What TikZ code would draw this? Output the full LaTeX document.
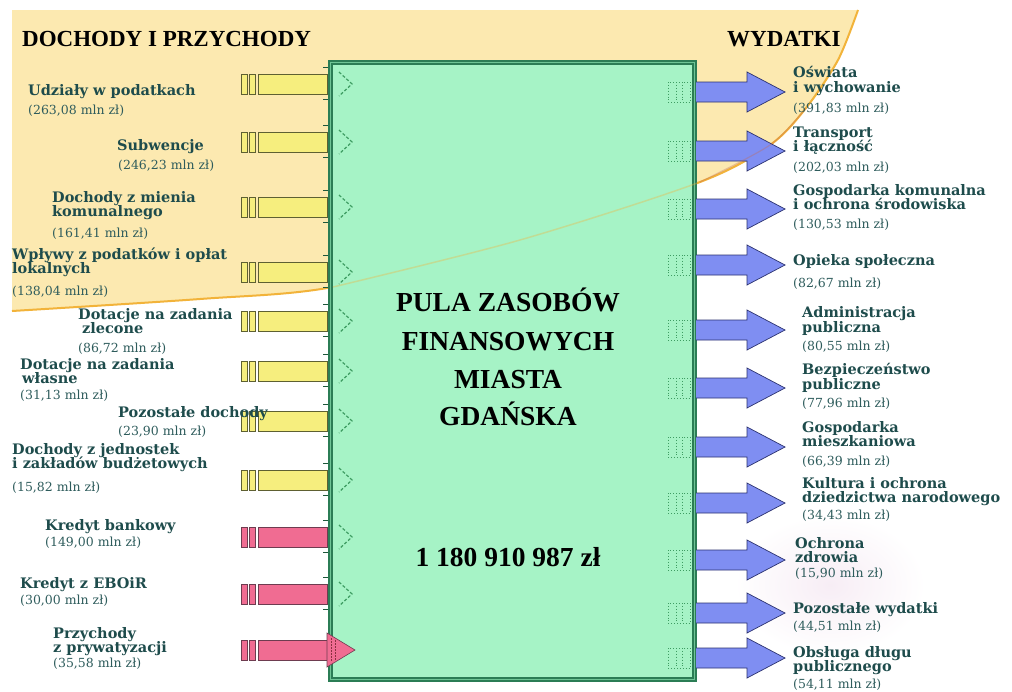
\documentclass[tikz,border=0pt]{standalone}
\usepackage{fontspec}
\setmainfont{Liberation Serif}
\newfontfamily\labfont{DejaVu Serif}
\definecolor{bgY}{HTML}{FCE9B0}
\definecolor{bgEdge}{HTML}{F2B33A}
\definecolor{boxG}{HTML}{A6F3C6}
\definecolor{boxB}{HTML}{2B7D55}
\definecolor{boxL}{HTML}{6FC596}
\definecolor{dotG}{HTML}{3E9C62}
\definecolor{barY}{HTML}{F6EE7E}
\definecolor{barYd}{HTML}{5E6032}
\definecolor{barP}{HTML}{F06C92}
\definecolor{barPd}{HTML}{6E3C50}
\definecolor{arrB}{HTML}{7F8EF2}
\definecolor{arrBd}{HTML}{2C3270}
\definecolor{labC}{HTML}{1E4C4C}
\definecolor{amtC}{HTML}{2E5C5C}
\definecolor{lav}{HTML}{F7EDF5}
\tikzset{
  lab/.style={font=\labfont\bfseries\fontsize{14.5}{14}\selectfont, text=labC, anchor=west, inner sep=0pt, text height=10.5pt, text depth=0pt},
  amt/.style={font=\labfont\fontsize{12.5}{14}\selectfont, text=amtC, anchor=west, inner sep=0pt, text height=9pt, text depth=0pt},
  head/.style={font=\bfseries\fontsize{23}{24}\selectfont, text=black, anchor=west, inner sep=0pt, text height=15pt, text depth=0pt},
  ctr/.style={font=\bfseries\fontsize{27.5}{28}\selectfont, text=black, anchor=center, inner sep=0pt, text height=18pt, text depth=0pt},
}
\begin{document}
\begin{tikzpicture}[x=1pt,y=-1pt]
\useasboundingbox (0,0) rectangle (1012,691);
\fill[white] (0,0) rectangle (1012,691);
% background region
\fill[bgY] (12,10) -- plot[smooth] coordinates {(858,10) (838,60) (806,108) (770,145) (700,182) (520,240) (333,287) (200,299) (12,311)} -- cycle;
\draw[bgEdge, line width=2] plot[smooth] coordinates {(858,10) (838,60) (806,108) (770,145) (700,182) (520,240) (333,287) (200,299) (12,311)};
\shade[inner color=lav, outer color=white] (830,585) ellipse [x radius=95, y radius=70];
% central box
\draw[boxB, line width=5, fill=boxG] (330,62) rectangle (694,679);
\draw[boxL, line width=0.8] (330,62) rectangle (694,679);
% faint curve through box
\draw[bgEdge, line width=1.5, opacity=0.35] plot[smooth] coordinates {(838,60) (806,108) (770,145) (700,182) (520,240) (333,287)};
% input bars
\foreach \c in {84,142,207,272,321,371,421,480}{
  \draw[barYd, fill=barY, line width=0.8] (258,\c-10) rectangle (327,\c+10);
  \draw[barYd, fill=barY, line width=0.8] (241,\c-10) rectangle (247,\c+10);
  \draw[barYd, fill=barY, line width=0.8] (249,\c-10) rectangle (255,\c+10);
}
\foreach \c in {537,594,650}{
  \draw[barPd, fill=barP, line width=0.8] (258,\c-10) rectangle (327,\c+10);
  \draw[barPd, fill=barP, line width=0.8] (241,\c-10) rectangle (247,\c+10);
  \draw[barPd, fill=barP, line width=0.8] (249,\c-10) rectangle (255,\c+10);
}
\foreach \c in {84,142,207,272,321,371,421,480,537,594}{
  \draw[dotG, line width=1.2, dash pattern=on 3pt off 2pt] (339,\c-12) -- (352,\c) -- (339,\c+12);
  \draw[boxB!70!black, line width=1] (323,\c-17) -- (328,\c-17);
  \draw[boxB!70!black, line width=1] (323,\c+15) -- (328,\c+15);
}
\draw[barPd, fill=barP, line width=0.6] (327,633) -- (355,650) -- (327,667) -- cycle;
\draw[barPd!80!red, line width=1, dash pattern=on 1.5pt off 1.5pt] (331,638) -- (331,662);
\draw[barPd!80!red, line width=1, dash pattern=on 1.5pt off 1.5pt] (335,640) -- (335,660);
% output arrows
\foreach \c in {92,151,209,265,330,388,447,503,560,613,658}{
  \draw[arrBd, fill=arrB, line width=0.7] (696,\c-10) -- (747,\c-10) -- (747,\c-20) -- (785,\c) -- (747,\c+20) -- (747,\c+10) -- (696,\c+10);
  \draw[dotG, dotted, line width=0.9] (668,\c-10) rectangle (690,\c+10);
  \draw[dotG, dotted, line width=0.9] (676,\c-10) -- (676,\c+10);
  \draw[dotG, dotted, line width=0.9] (682,\c-10) -- (682,\c+10);
}
% faint curve over arrow 2
\draw[bgEdge!60!violet, line width=1.2, opacity=0.35] plot[smooth] coordinates {(806,108) (770,145) (700,182)};
% headings
\node[head] (hL) at (22,39) {DOCHODY I PRZYCHODY};
\node[head] (hR) at (727,39) {WYDATKI};
% central texts
\node[ctr] (c1) at (508,302) {PULA ZASOBÓW};
\node[ctr] (c2) at (508,341) {FINANSOWYCH};
\node[ctr] (c3) at (508,379) {MIASTA};
\node[ctr] (c4) at (508,416) {GDAŃSKA};
\node[ctr] (c5) at (508,557) {1 180 910 987 zł};
% left labels
\node[lab] (l1a) at (28,90) {Udziały w podatkach};
\node[amt] (l1m) at (28,110) {(263,08 mln zł)};
\node[lab] (l2a) at (117,145) {Subwencje};
\node[amt] (l2m) at (118,165) {(246,23 mln zł)};
\node[lab] (l3a) at (52,197) {Dochody z mienia};
\node[lab] (l3b) at (52,211) {komunalnego};
\node[amt] (l3m) at (52,233) {(161,41 mln zł)};
\node[lab] (l4a) at (12,254) {Wpływy z podatków i opłat};
\node[lab] (l4b) at (12,268) {lokalnych};
\node[amt] (l4m) at (12,291) {(138,04 mln zł)};
\node[lab] (l5a) at (78,314) {Dotacje na zadania};
\node[lab] (l5b) at (82,328) {zlecone};
\node[amt] (l5m) at (78,348) {(86,72 mln zł)};
\node[lab] (l6a) at (20,364) {Dotacje na zadania};
\node[lab] (l6b) at (22,378) {własne};
\node[amt] (l6m) at (20,395) {(31,13 mln zł)};
\node[lab] (l7a) at (118,412) {Pozostałe dochody};
\node[amt] (l7m) at (118,431) {(23,90 mln zł)};
\node[lab] (l8a) at (12,449) {Dochody z jednostek};
\node[lab] (l8b) at (12,463) {i zakładów budżetowych};
\node[amt] (l8m) at (12,487) {(15,82 mln zł)};
\node[lab] (l9a) at (45,525) {Kredyt bankowy};
\node[amt] (l9m) at (45,542) {(149,00 mln zł)};
\node[lab] (l10a) at (20,583) {Kredyt z EBOiR};
\node[amt] (l10m) at (20,600) {(30,00 mln zł)};
\node[lab] (l11a) at (53,633) {Przychody};
\node[lab] (l11b) at (53,647) {z prywatyzacji};
\node[amt] (l11m) at (53,663) {(35,58 mln zł)};
% right labels
\node[lab] (r1a) at (793,72) {Oświata};
\node[lab] (r1b) at (793,87) {i wychowanie};
\node[amt] (r1m) at (793,108) {(391,83 mln zł)};
\node[lab] (r2a) at (793,132) {Transport};
\node[lab] (r2b) at (793,146) {i łączność};
\node[amt] (r2m) at (793,167) {(202,03 mln zł)};
\node[lab] (r3a) at (793,190) {Gospodarka komunalna};
\node[lab] (r3b) at (793,204) {i ochrona środowiska};
\node[amt] (r3m) at (793,224) {(130,53 mln zł)};
\node[lab] (r4a) at (793,260) {Opieka społeczna};
\node[amt] (r4m) at (793,283) {(82,67 mln zł)};
\node[lab] (r5a) at (802,312) {Administracja};
\node[lab] (r5b) at (802,327) {publiczna};
\node[amt] (r5m) at (802,346) {(80,55 mln zł)};
\node[lab] (r6a) at (802,369) {Bezpieczeństwo};
\node[lab] (r6b) at (802,384) {publiczne};
\node[amt] (r6m) at (802,403) {(77,96 mln zł)};
\node[lab] (r7a) at (802,427) {Gospodarka};
\node[lab] (r7b) at (802,441) {mieszkaniowa};
\node[amt] (r7m) at (802,461) {(66,39 mln zł)};
\node[lab] (r8a) at (802,483) {Kultura i ochrona};
\node[lab] (r8b) at (802,497) {dziedzictwa narodowego};
\node[amt] (r8m) at (802,515) {(34,43 mln zł)};
\node[lab] (r9a) at (795,543) {Ochrona};
\node[lab] (r9b) at (795,557) {zdrowia};
\node[amt] (r9m) at (795,573) {(15,90 mln zł)};
\node[lab] (r10a) at (793,608) {Pozostałe wydatki};
\node[amt] (r10m) at (793,626) {(44,51 mln zł)};
\node[lab] (r11a) at (793,652) {Obsługa długu};
\node[lab] (r11b) at (793,666) {publicznego};
\node[amt] (r11m) at (793,684) {(54,11 mln zł)};
\end{tikzpicture}
\end{document}
